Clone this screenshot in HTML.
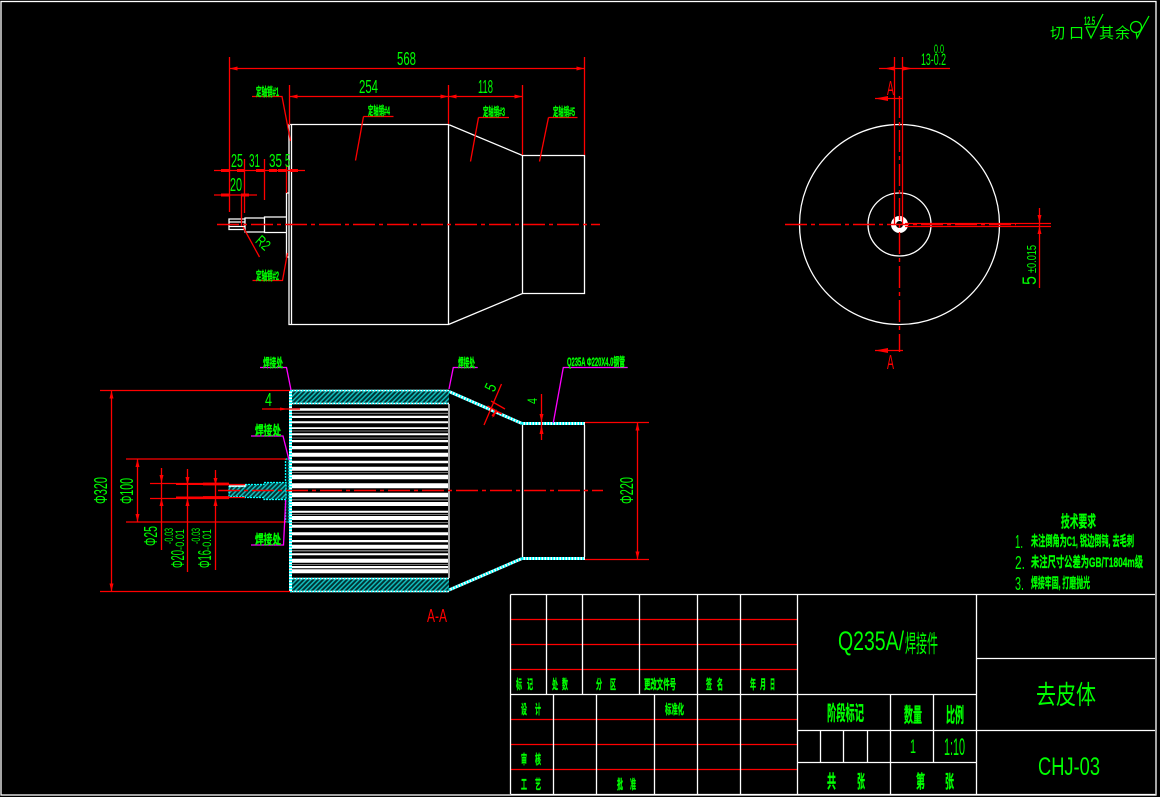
<!DOCTYPE html>
<html><head><meta charset="utf-8"><style>
html,body{margin:0;padding:0;background:#000;width:1160px;height:797px;overflow:hidden}
svg{display:block}
text{font-family:"Liberation Sans","Noto Sans CJK SC",sans-serif;fill:#0f0}
.b{font-weight:bold;stroke:#0f0;stroke-width:.35}
.w{stroke:#fff;stroke-width:1.3;fill:none}
.r{stroke:#f00;stroke-width:1.3;fill:none}
.m{stroke:#f0f;stroke-width:1.3;fill:none}
.c{stroke:#fff;stroke-width:3;fill:none}
.d{stroke:#0ff;stroke-width:3;stroke-dasharray:1.5 1.5;fill:none}
.ra{fill:#f00;stroke:none}
.cl{stroke:#f00;stroke-width:1.4;stroke-dasharray:22 4 4 4;fill:none}
</style></head><body>
<svg width="1160" height="797" viewBox="0 0 1160 797" xmlns="http://www.w3.org/2000/svg">
<defs>
<marker id="a" markerUnits="userSpaceOnUse" markerWidth="9" markerHeight="5" refX="8" refY="2.5" orient="auto-start-reverse"><path d="M0 .5L8 2.5L0 4.5Z" fill="#f00"/></marker>
<pattern id="h" patternUnits="userSpaceOnUse" width="3.4" height="3.4" patternTransform="rotate(45)"><rect width="3.4" height="3.4" fill="#033"/><rect width="1.5" height="3.4" fill="#1bb"/></pattern>
</defs>
<rect width="1160" height="797" fill="#000"/>
<rect x="1" y="1.5" width="1155" height="793.5" class="w"/>

<!-- TOP VIEW -->
<path class="w" d="M289 124.5H448.5V324.5H289ZM291.5 124.5V324.5M448.5 124.5L522.5 155.5H584.5V293.5H522.5L448.5 324.5M522.5 155.5V293.5"/>
<path class="w" d="M289 193H286.5V257H289M286.5 217H264.5V232.5H286.5M264.5 218H245V232H264.5M245 219H229V229.5H245M229 222H245M229 226.5H245"/>
<path class="cl" d="M217 224.5H600"/>
<path class="r" d="M229.5 57V212M584.5 57V155M289.5 85V125M448.5 85V124M522.5 85V155M244.5 159V213M264.5 159V200M286.5 165V193M241.5 195V226"/>
<line class="r" x1="229.5" y1="68.5" x2="584.5" y2="68.5" marker-start="url(#a)" marker-end="url(#a)"/>
<line class="r" x1="289.5" y1="96.5" x2="448.5" y2="96.5" marker-start="url(#a)" marker-end="url(#a)"/>
<line class="r" x1="448.5" y1="96.5" x2="522.5" y2="96.5" marker-start="url(#a)" marker-end="url(#a)"/>
<path class="r" d="M214 170.5H305M214 195H257M252 96.5H282L290.5 141M363.5 116.5H393.5M363.5 116.5L355.5 160.5M478.5 117.5H509M478.5 117.5L470.5 161.5M548.5 117.5H577.5M548.5 117.5L539.5 161.5M252.5 280.5H282.5L287.5 253M243 227L259.5 257"/>
<path class="ra" d="M221 169h8v3h-8zM237 169h8v3h-8zM256 169h8v3h-8zM269 169h8v3h-8zM278 169h9v3h-9zM290 169h8v3h-8zM221 193.500h8v3h-8zM241 193.500h8v3h-8z"/>
<g font-size="18">
<text x="397" y="65" textLength="19" lengthAdjust="spacingAndGlyphs">568</text>
<text x="359" y="93" textLength="19" lengthAdjust="spacingAndGlyphs">254</text>
<text x="478" y="93" textLength="15" lengthAdjust="spacingAndGlyphs">118</text>
<text x="231" y="167" textLength="12" lengthAdjust="spacingAndGlyphs">25</text>
<text x="249" y="167" textLength="11" lengthAdjust="spacingAndGlyphs">31</text>
<text x="269" y="167" textLength="13" lengthAdjust="spacingAndGlyphs">35</text>
<text x="285" y="167" textLength="5" lengthAdjust="spacingAndGlyphs">5</text>
<text x="230" y="191" textLength="12" lengthAdjust="spacingAndGlyphs">20</text>
<text transform="translate(254.500,242) rotate(42)" font-size="15" textLength="14" lengthAdjust="spacingAndGlyphs">R2</text>
</g>
<g font-size="12" class="b">
<text x="256" y="96" textLength="23" lengthAdjust="spacingAndGlyphs">定轴销#1</text>
<text x="256" y="280" textLength="23" lengthAdjust="spacingAndGlyphs">定轴销#2</text>
<text x="368" y="115" textLength="22" lengthAdjust="spacingAndGlyphs">定轴销#4</text>
<text x="483" y="116" textLength="22" lengthAdjust="spacingAndGlyphs">定轴销#3</text>
<text x="553" y="116" textLength="22" lengthAdjust="spacingAndGlyphs">定轴销#5</text>
</g>

<!-- SECTION VIEW -->
<path fill="#fff" d="M292 408.300H448V410.700H292ZM292 415.700H448V418H292ZM292 421.300H448V423.300H292ZM292 427.300H448V429H292ZM292 433.300H448V435.300H292ZM292 440H448V442.300H292ZM292 446H448V449.300H292ZM292 452.700H448V456.700H292ZM292 460.700H448V463.300H292ZM292 466.700H448V470.700H292ZM292 474.700H448V479.300H292ZM292 483.300H448V488.300H292ZM292 492.700H448V497.300H292ZM292 502H448V506H292ZM292 510.700H448V512.700H292ZM292 516H448V520H292ZM292 524.700H448V527.700H292ZM292 532.300H448V535.300H292ZM292 540H448V542.300H292ZM292 544.700H448V548.700H292ZM292 553.300H448V555.300H292ZM292 558.700H448V562.700H292ZM292 566H448V568.300H292ZM292 569.300H448V573.300H292Z"/>
<path fill="#777" d="M292 412.700H448V414H292ZM292 430.500H448V431.500H292ZM292 437.500H448V438.500H292ZM292 472H448V473H292ZM292 499H448V500.500H292ZM292 514H448V515H292ZM292 522H448V523H292ZM292 550H448V551.500H292ZM292 564H448V565H292Z"/>
<rect x="290" y="390" width="159" height="14" fill="url(#h)"/>
<rect x="290" y="578" width="159" height="14" fill="url(#h)"/>
<path class="d" style="stroke-width:1.5;stroke:#fff;stroke-dasharray:none" d="M290 390.500H449M290 403.500H449M290 578.500H449M290 591.500H449"/>
<path class="d" style="stroke-width:1.5" d="M290 390.500H449M290 403.500H449M290 578.500H449M290 591.500H449"/>
<path class="c" style="stroke-width:3" d="M290.500 390V592"/>
<path class="d" d="M290.500 390V592"/>
<path class="w" d="M449 404V578"/>
<path d="M285.500 459H289V522H285.500Z" fill="#022" stroke="#0ff" stroke-width="1.300" stroke-dasharray="2 1"/>
<path d="M229 486.500H245V484.500H264V482.500H286V499.500H264V497.500H245V496.500H229Z" fill="url(#h)" stroke="#0ff" stroke-width="1.300" stroke-dasharray="2 1"/>
<path stroke="#fff" stroke-width="1.500" fill="none" d="M229 486H245V484.500"/>
<path class="c" d="M449 391.500L522 423.500M449 590L522 558.500"/>
<path class="d" d="M449 391.500L522 423.500M449 590L522 558.500"/>
<path class="c" d="M522 423.500H585M522 558.500H585"/>
<path class="d" d="M522 423.500H585M522 558.500H585"/>
<path class="w" d="M522.500 425V557M584.500 425V557"/>
<path class="cl" d="M218 490.500H603"/>

<path class="r" d="M100 390.500H290M100 591.500H290M126 459H286M126 522H286M150 483.500H229M150 498.500H229M585 422.500H649M585 559.500H649M484 425L501.500 384M262 409H300M487.500 406L502 414M491 401L505 409M229 484.500H245M229 497.500H245"/>
<path class="r" style="stroke-width:2" d="M176 484H229M176 497.500H229"/>
<path class="r" style="stroke-width:2.800" d="M203 484H229M203 497.500H229"/>
<line class="r" x1="111.500" y1="390.500" x2="111.500" y2="591.500" marker-start="url(#a)" marker-end="url(#a)"/>
<line class="r" x1="137.500" y1="459" x2="137.500" y2="522" marker-start="url(#a)" marker-end="url(#a)"/>
<line class="r" x1="637.500" y1="422.500" x2="637.500" y2="559.500" marker-start="url(#a)" marker-end="url(#a)"/>
<path class="r" d="M161.500 468V550M187.500 469V572M215.500 470V570M541.500 394V440"/>
<path class="ra" d="M159.500 475h4l-2 8zM159.500 506h4l-2 -8zM185.500 477h4l-2 8zM185.500 506h4l-2 -8zM213.500 478h4l-2 7zM213.500 506h4l-2 -8zM539.500 414h4l-2 8zM539.500 434h4l-2 -9zM280 407.500l8 1.500l-8 1.500zM492 418l3 -8l2.500 1.500zM497 409l-3 8l-2.500 -1.500z"/>
<path class="m" d="M260 367.500H286.500L291 390M251 436H283L289 460M251 545H283.500L285.700 500M477.700 367.500H453.300L449 389M627.700 367.500H563.300L553.300 422.700"/>
<g class="b">
<text x="263" y="367" font-size="12" textLength="20" lengthAdjust="spacingAndGlyphs">焊接处</text>
<text x="255" y="435" font-size="13" textLength="26" lengthAdjust="spacingAndGlyphs">焊接处</text>
<text x="255" y="544" font-size="13" textLength="26" lengthAdjust="spacingAndGlyphs">焊接处</text>
<text x="458" y="367" font-size="12" textLength="17" lengthAdjust="spacingAndGlyphs">焊接处</text>
<text x="567" y="366" font-size="12" textLength="58" lengthAdjust="spacingAndGlyphs">Q235A Φ220X4.0钢管</text>
</g>
<g font-size="18">
<text x="265" y="406" textLength="7" lengthAdjust="spacingAndGlyphs">4</text>
<text transform="translate(107,504) rotate(-90)" textLength="27" lengthAdjust="spacingAndGlyphs">Φ320</text>
<text transform="translate(133,504) rotate(-90)" textLength="26" lengthAdjust="spacingAndGlyphs">Φ100</text>
<text transform="translate(157,546) rotate(-90)" textLength="20" lengthAdjust="spacingAndGlyphs">Φ25</text>
<text transform="translate(633,504) rotate(-90)" textLength="27" lengthAdjust="spacingAndGlyphs">Φ220</text>
<text transform="translate(494,392.700) rotate(-65)" font-size="16" textLength="7" lengthAdjust="spacingAndGlyphs">5</text>
<text transform="translate(537,404) rotate(-90)" font-size="14" textLength="6" lengthAdjust="spacingAndGlyphs">4</text>
<text transform="translate(184,568) rotate(-90)" textLength="18" lengthAdjust="spacingAndGlyphs">Φ20</text>
<text transform="translate(184,550) rotate(-90)" font-size="12" textLength="21" lengthAdjust="spacingAndGlyphs">-0.01</text>
<text transform="translate(173,544) rotate(-90)" font-size="12" textLength="16" lengthAdjust="spacingAndGlyphs">-0.03</text>
<text transform="translate(211,568) rotate(-90)" textLength="18" lengthAdjust="spacingAndGlyphs">Φ16</text>
<text transform="translate(211,550) rotate(-90)" font-size="12" textLength="21" lengthAdjust="spacingAndGlyphs">-0.01</text>
<text transform="translate(200,544) rotate(-90)" font-size="12" textLength="16" lengthAdjust="spacingAndGlyphs">-0.03</text>
</g>
<text x="427" y="622" font-size="18" style="fill:#f00" textLength="20" lengthAdjust="spacingAndGlyphs">A-A</text>

<!-- RIGHT VIEW -->
<circle cx="899.500" cy="224.500" r="100" class="w"/>
<circle cx="899.500" cy="224.500" r="31.500" class="w"/>
<circle cx="899.500" cy="224.500" r="6" fill="none" stroke="#fff" stroke-width="5"/>
<path class="cl" d="M785 224.500H1016"/>
<path class="cl" d="M899.500 96V352"/>
<path class="r" d="M894.500 57V224M902.500 57V224M879 68.500H950M875 98.500H902M875 350.500H903M905 223.500H1051M905 226.500H1051M1039.500 208V288"/>
<path class="ra" d="M875 98.500l13 -2.500v5zM875 350.500l13 -2.500v5zM884 68.500l10 -2v4zM913 68.500l-10 -2v4zM1037.500 215h4l-2 8zM1037.500 234h4l-2 -8z"/>
<text x="887" y="95" font-size="20" style="fill:#f00" textLength="7" lengthAdjust="spacingAndGlyphs">A</text>
<text x="887" y="369" font-size="20" style="fill:#f00" textLength="7" lengthAdjust="spacingAndGlyphs">A</text>
<text x="921" y="65" font-size="17" textLength="25" lengthAdjust="spacingAndGlyphs">13-0.2</text>
<text x="934" y="53" font-size="12" textLength="10" lengthAdjust="spacingAndGlyphs">0.0</text>
<text transform="translate(1036,285) rotate(-90)" font-size="19" textLength="9" lengthAdjust="spacingAndGlyphs">5</text>
<text transform="translate(1036,273) rotate(-90)" font-size="13" textLength="28" lengthAdjust="spacingAndGlyphs">±0.015</text>

<!-- SURFACE NOTE -->
<g font-size="15">
<text x="1050" y="38">切</text><text x="1069" y="38">口</text>
<text x="1099" y="38">其</text><text x="1115" y="38">余</text>
</g>
<text x="1084" y="25" font-size="12" font-weight="bold" textLength="11" lengthAdjust="spacingAndGlyphs">12.5</text>
<path d="M1086 27L1091 38L1103 14M1086 27H1096M1136 32L1137 38L1149 16" stroke="#0f0" stroke-width="1.200" fill="none"/>
<circle cx="1136" cy="27" r="5.500" stroke="#0f0" stroke-width="1.200" fill="none"/>

<!-- TECH -->
<g class="b">
<text x="1061" y="527" font-size="16" textLength="35" lengthAdjust="spacingAndGlyphs">技术要求</text>
<text x="1031" y="546" font-size="14" textLength="103" lengthAdjust="spacingAndGlyphs">未注倒角为C1, 锐边倒钝, 去毛刺</text>
<text x="1031" y="567" font-size="14" textLength="112" lengthAdjust="spacingAndGlyphs">未注尺寸公差为GB/T1804m级</text>
<text x="1031" y="588" font-size="14" textLength="59" lengthAdjust="spacingAndGlyphs">焊接牢固, 打磨抛光</text>
</g>
<g font-size="18">
<text x="1015" y="548" textLength="8" lengthAdjust="spacingAndGlyphs">1.</text>
<text x="1015" y="569" textLength="10" lengthAdjust="spacingAndGlyphs">2.</text>
<text x="1015" y="590" textLength="9" lengthAdjust="spacingAndGlyphs">3.</text>
</g>

<!-- TITLE BLOCK -->
<path class="r" d="M511 619.500H797M511 644.500H797M511 669.500H797M511 719.500H797M511 744.500H797M511 769.500H797"/>
<path class="w" d="M510.500 594.500H1155M510.500 594.500V794M510.500 694.500H797.500M510.500 794.500H1155M546.500 594.500V694.500M582.500 594.500V694.500M639.500 594.500V694.500M697.500 594.500V794M740.500 594.500V794M797.500 594.500V794M553.500 694.500V794M596.500 694.500V794M654.500 694.500V794M976.500 594.500V794M976.500 658.500H1155M976.500 730.500H1155M797.500 694.500H976.500M797.500 730.500H976.500M797.500 762.500H976.500M890.500 694.500V794M933.500 694.500V762.500M820.500 730.500V762.500M843.500 730.500V762.500M867.500 730.500V762.500"/>
<g font-size="13" class="b">
<text x="516" y="689" textLength="6" lengthAdjust="spacingAndGlyphs">标</text><text x="527" y="689" textLength="6" lengthAdjust="spacingAndGlyphs">记</text>
<text x="552" y="689" textLength="6" lengthAdjust="spacingAndGlyphs">处</text><text x="562" y="689" textLength="6" lengthAdjust="spacingAndGlyphs">数</text>
<text x="596" y="689" textLength="6" lengthAdjust="spacingAndGlyphs">分</text><text x="610" y="689" textLength="6" lengthAdjust="spacingAndGlyphs">区</text>
<text x="644" y="689" textLength="32" lengthAdjust="spacingAndGlyphs">更改文件号</text>
<text x="706" y="689" textLength="6" lengthAdjust="spacingAndGlyphs">签</text><text x="717" y="689" textLength="6" lengthAdjust="spacingAndGlyphs">名</text>
<text x="750" y="689" textLength="6" lengthAdjust="spacingAndGlyphs">年</text><text x="760" y="689" textLength="6" lengthAdjust="spacingAndGlyphs">月</text><text x="770" y="689" textLength="5" lengthAdjust="spacingAndGlyphs">日</text>
<text x="521" y="714" textLength="6" lengthAdjust="spacingAndGlyphs">设</text><text x="535" y="714" textLength="6" lengthAdjust="spacingAndGlyphs">计</text>
<text x="665" y="714" textLength="19" lengthAdjust="spacingAndGlyphs">标准化</text>
<text x="521" y="764" textLength="6" lengthAdjust="spacingAndGlyphs">审</text><text x="535" y="764" textLength="6" lengthAdjust="spacingAndGlyphs">核</text>
<text x="521" y="789" textLength="6" lengthAdjust="spacingAndGlyphs">工</text><text x="535" y="789" textLength="6" lengthAdjust="spacingAndGlyphs">艺</text>
<text x="617" y="789" textLength="6" lengthAdjust="spacingAndGlyphs">批</text><text x="630" y="789" textLength="6" lengthAdjust="spacingAndGlyphs">准</text>
<text x="827" y="720" font-size="20" textLength="37" lengthAdjust="spacingAndGlyphs">阶段标记</text>
<text x="904" y="722" font-size="20" textLength="18" lengthAdjust="spacingAndGlyphs">数量</text>
<text x="946" y="722" font-size="20" textLength="18" lengthAdjust="spacingAndGlyphs">比例</text>
<text x="827" y="788" font-size="18" textLength="9" lengthAdjust="spacingAndGlyphs">共</text><text x="857" y="788" font-size="18" textLength="8" lengthAdjust="spacingAndGlyphs">张</text>
<text x="916" y="788" font-size="18" textLength="9" lengthAdjust="spacingAndGlyphs">第</text><text x="945" y="788" font-size="18" textLength="9" lengthAdjust="spacingAndGlyphs">张</text>
</g>
<text x="838" y="650" font-size="27" textLength="66" lengthAdjust="spacingAndGlyphs">Q235A/</text>
<text x="905" y="652" font-size="24" textLength="33" lengthAdjust="spacingAndGlyphs">焊接件</text>
<text x="1036" y="704" font-size="26" textLength="60" lengthAdjust="spacingAndGlyphs">去皮体</text>
<text x="1038" y="775" font-size="25" textLength="62" lengthAdjust="spacingAndGlyphs">CHJ-03</text>
<text x="910" y="753" font-size="19" textLength="6" lengthAdjust="spacingAndGlyphs">1</text>
<text x="944" y="755" font-size="24" textLength="21" lengthAdjust="spacingAndGlyphs">1:10</text>
</svg>
</body></html>
